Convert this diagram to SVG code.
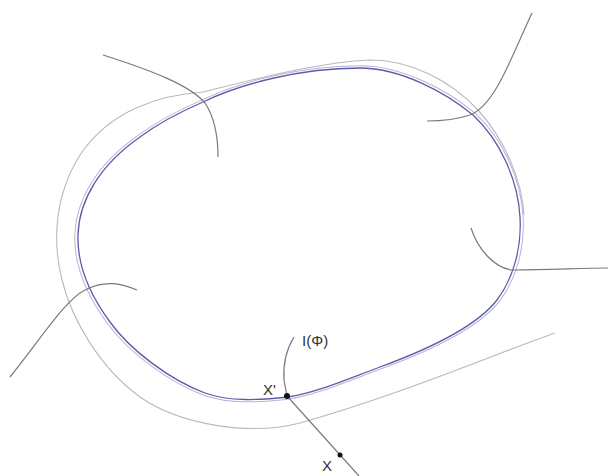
<svg xmlns="http://www.w3.org/2000/svg" width="611" height="476" viewBox="0 0 611 476">
<defs>
<style>
.inner{fill:none;stroke:#5c5ca8;stroke-width:1.3}
.inner2{fill:none;stroke:#b4b4dc;stroke-width:1}
.outer{fill:none;stroke:#b8b8c0;stroke-width:1.1}
.stem{fill:none;stroke:#7a7a7a;stroke-width:1.2}
.lbl{font-family:"Liberation Sans",Arial,sans-serif;font-size:15px;fill:#333}
</style>
<path id="loop" d="M203,102 C240,84 300,68 360,68 C400,68 445,92 473,115 C500,140 518,180 520,217 C522,250 512,280 497,300 C480,322 440,345 380,367 C345,380 315,393 288,397 C260,400 230,402 205,393 C170,380 130,350 110,322 C90,295 77,265 78,235 C79,200 100,165 140,137 C160,122 180,112 203,102 Z"/>
</defs>
<rect width="611" height="476" fill="#fff"/>
<g id="boundary">
<use href="#loop" class="inner2" transform="translate(300,235) scale(1.014) translate(-300,-235)"/>
<use href="#loop" class="inner"/>
<path class="outer" d="M555,333 C500,352 400,395 300,423 C250,436 180,425 140,397 C100,368 72,320 62,280 C52,240 55,195 80,155 C110,110 160,95 203,92 C260,78 320,62 370,60 C410,60 450,80 478,110 C505,140 522,180 524,215"/>
</g>
<g id="connectors">
<path class="stem" d="M103,55 C150,70 190,85 205,103 C215,118 218,140 218,157"/>
<path class="stem" d="M532,13 C510,60 495,105 470,115 C455,120 440,121 427,121"/>
<path class="stem" d="M471,228 C478,250 495,268 512,270 C550,270 580,268 608,268"/>
<path class="stem" d="M10,377 C40,340 65,300 85,290 C105,280 120,283 137,290"/>
<path class="stem" d="M294,337 C286,350 283,365 284,380 L287,396"/>
<path class="stem" d="M287,396 L359,476"/>
</g>
<g id="points">
<circle cx="287" cy="396" r="3" fill="#111"/>
<circle cx="340" cy="455" r="2.5" fill="#111"/>
</g>
<g id="labels">
<text class="lbl" x="302" y="346">I(Φ)</text>
<text class="lbl" x="263" y="395">X'</text>
<text class="lbl" x="322" y="471">X</text>
</g>
</svg>
